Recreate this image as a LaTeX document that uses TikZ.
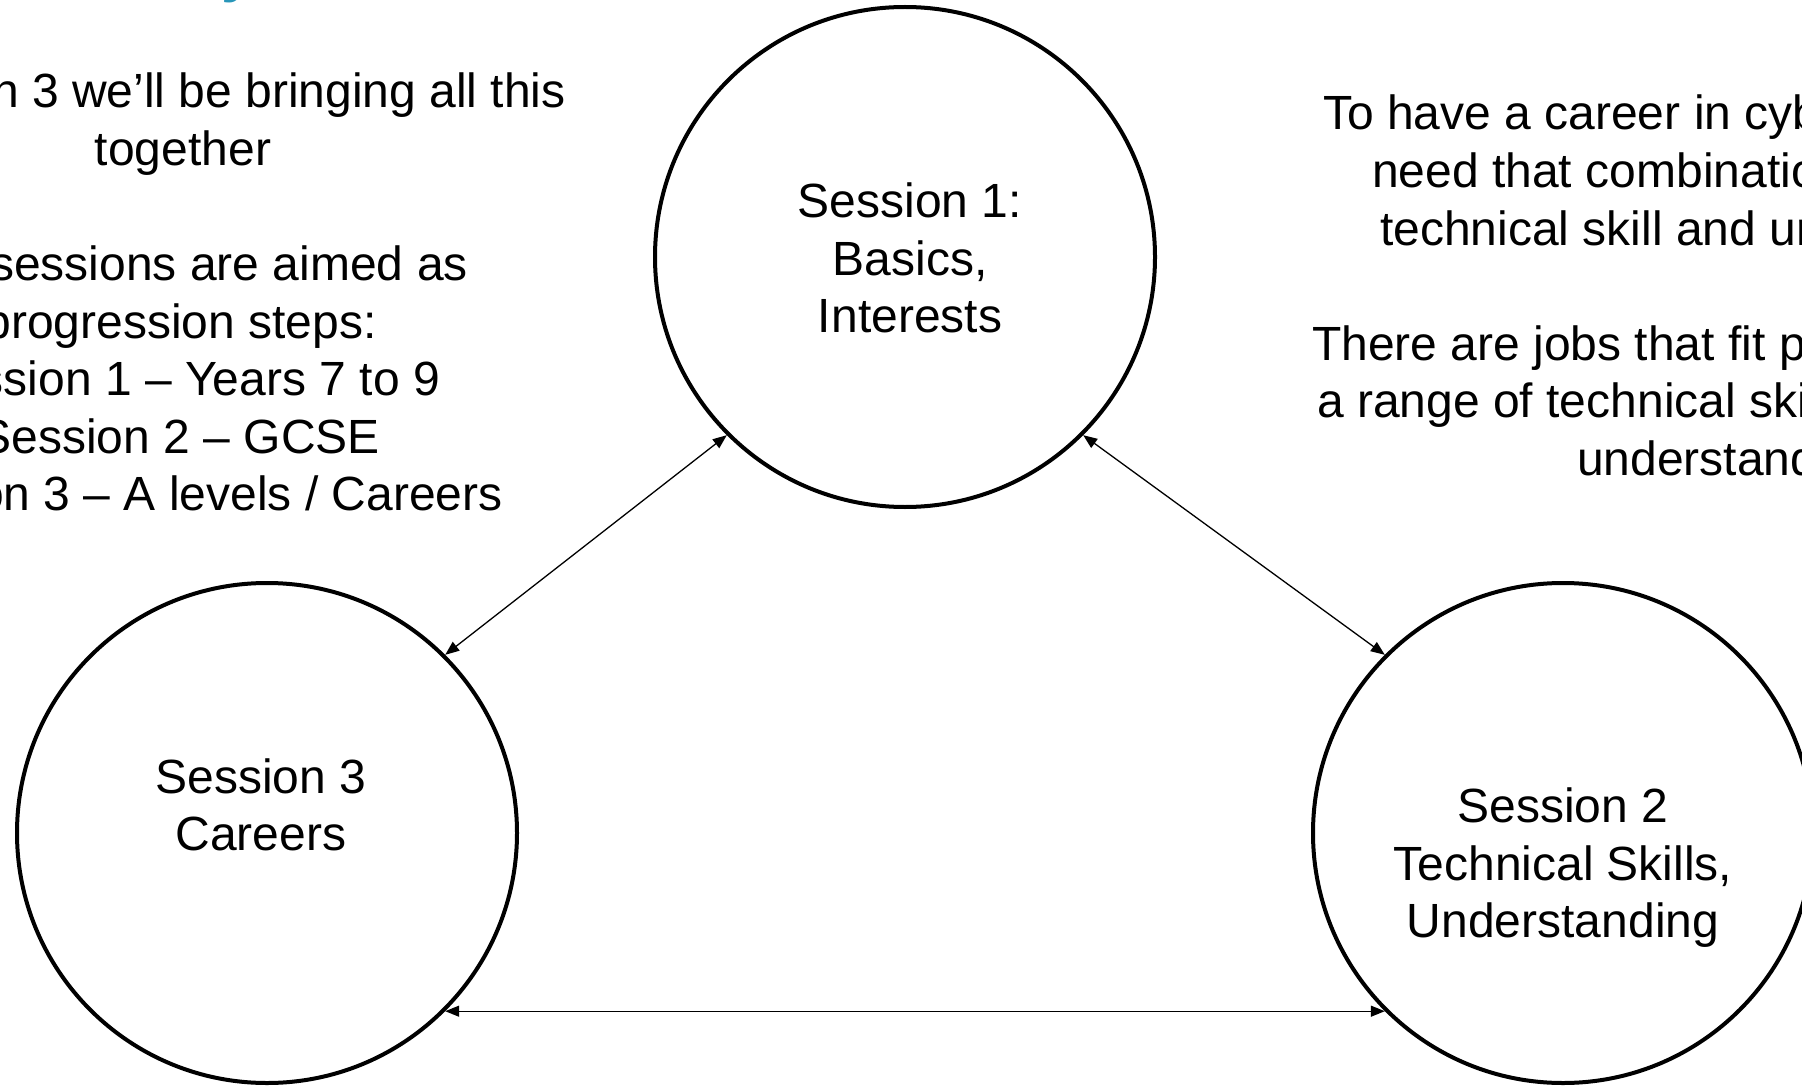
\documentclass[tikz,border=0pt]{standalone}
\usepackage{fontspec}
\setmainfont{Liberation Sans}
\usetikzlibrary{arrows.meta}
\definecolor{titleteal}{RGB}{40,150,185}

\begin{document}
\begin{tikzpicture}[
    x=1pt, y=-1pt,
    session/.style={circle, draw, line width=4pt, minimum size=500pt, inner sep=0pt},
    txt/.style={font=\fontsize{48}{57.5}\selectfont, inner sep=0pt, align=center},
    lefttxt/.style={font=\fontsize{48}{57.5}\selectfont, inner sep=0pt, anchor=base east},
    righttxt/.style={font=\fontsize{48}{57.5}\selectfont, inner sep=0pt, anchor=base west},
    twoway/.style={{Triangle[length=14pt,width=11pt]}-{Triangle[length=14pt,width=11pt]}, line width=1.3pt}
]
    % Frame
    \useasboundingbox (0,0) rectangle (1802,1086);
    \clip (0,0) rectangle (1802,1086);

    % Title (cut off at the top)
    \node[font=\fontsize{60}{60}\selectfont\bfseries, text=titleteal, inner sep=0pt, anchor=base] (title) at (238,-9) {y};

    % Sessions
    \node[session] (s1) at (905,257) {};
    \node[session] (s3) at (267,833) {};
    \node[session] (s2) at (1563,833) {};

    \node[txt, xshift=5pt, yshift=-1pt] (s1txt) at (s1) {Session 1:\\Basics,\\Interests};
    \node[txt, xshift=-6pt, yshift=28pt] (s3txt) at (s3) {Session 3\\Careers};
    \node[txt, yshift=-35pt] (s2txt) at (s2) {Session 2\\Technical Skills,\\Understanding};

    % Arrows
    \draw[twoway] (s1.south west) -- (s3.north east);
    \draw[twoway] (s1.south east) -- (s2.north west);
    \draw[twoway] (s3.south east) -- (s2.south west);

    % Left text
    \node[lefttxt] (l1) at (566,108) {n 3 we’ll be bringing all this};
    \node[txt, anchor=base] (l2) at (183,165.5) {together};
    \node[lefttxt] (l3) at (468,280.5) {sessions are aimed as};
    \node[lefttxt] (l4) at (377,338) {progression steps:};
    \node[lefttxt] (l5) at (440,395.5) {ssion 1 – Years 7 to 9};
    \node[lefttxt] (l6) at (380,453) {Session 2 – GCSE};
    \node[lefttxt] (l7) at (503,510.5) {on 3 – A levels / Careers};

    % Right text
    \node[righttxt] (r1) at (1323,130) {To have a career in cyb};
    \node[righttxt] (r2) at (1372,187.5) {need that combinatio};
    \node[righttxt] (r3) at (1380,245) {technical skill and ur};
    \node[righttxt] (r4) at (1312,360) {There are jobs that fit p};
    \node[righttxt] (r5) at (1317,417.5) {a range of technical ski};
    \node[righttxt] (r6) at (1577,475) {understand};
\end{tikzpicture}
\end{document}
